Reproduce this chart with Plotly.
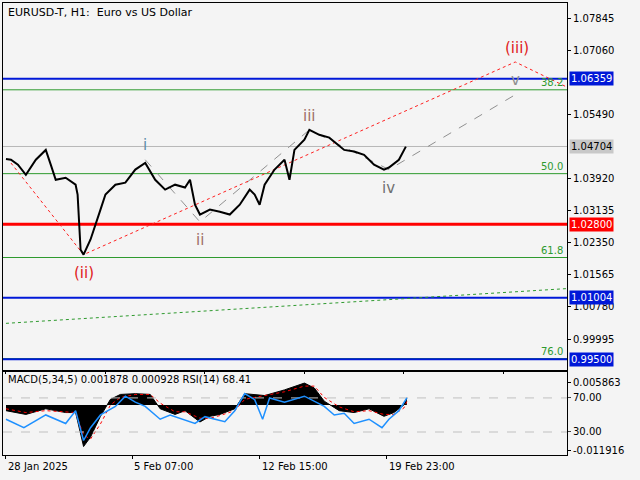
import plotly.graph_objects as go

# hourly bar index -> close price
bar_idx = [0, 5, 12, 20, 30, 40, 45, 50, 60, 70, 72, 75, 78, 85, 95, 100, 110, 120,
           130, 140, 150, 160, 170, 180, 185, 190, 195, 205, 215, 225, 235, 245, 250,
           255, 260, 270, 280, 285, 290, 300, 305, 315, 325, 340, 350, 360, 370, 380,
           385, 395, 402]
close = [1.0440, 1.0438, 1.0426, 1.0401, 1.0438, 1.0462, 1.0426, 1.0389, 1.0394,
         1.0377, 1.0353, 1.0218, 1.0206, 1.0243, 1.0316, 1.0353, 1.0377, 1.0382,
         1.0414, 1.0430, 1.0389, 1.0365, 1.0377, 1.0370, 1.0389, 1.0328, 1.0304,
         1.0316, 1.0311, 1.0304, 1.0328, 1.0365, 1.0353, 1.0328, 1.0377, 1.0414,
         1.0438, 1.0389, 1.0462, 1.0487, 1.0511, 1.0499, 1.0492, 1.0462, 1.0458,
         1.0450, 1.0426, 1.0414, 1.0419, 1.0438, 1.0470]

# indicator pane
rsi_idx = [0, 18, 40, 60, 70, 78, 85, 95, 110, 120, 130, 140, 155, 165, 190, 200,
           220, 230, 240, 250, 258, 265, 280, 300, 320, 330, 340, 350, 365, 378, 385,
           395, 403]
rsi = [45, 35, 50, 40, 55, 20, 35, 50, 60, 72, 65, 60, 45, 50, 40, 48, 42, 55, 75,
       68, 45, 70, 65, 72, 60, 50, 52, 40, 45, 35, 45, 55, 70]
macd_idx = [0, 20, 40, 60, 70, 78, 85, 95, 105, 115, 130, 145, 155, 170, 180, 195,
            205, 215, 230, 240, 260, 280, 300, 310, 320, 335, 350, 365, 380, 390,
            400, 403]
macd = [-0.0015, -0.0025, -0.0010, -0.0020, -0.0020, -0.0110, -0.0085, -0.0030,
        0.0015, 0.0028, 0.0030, 0.0028, -0.0010, -0.0025, -0.0015, -0.0045, -0.0030,
        -0.0025, -0.0010, 0.0030, 0.0025, 0.0040, 0.0058, 0.0045, 0.0010, -0.0015,
        -0.0020, -0.0010, -0.0030, -0.0020, 0.0000, 0.0019]
signal = [-0.0010, -0.0020, -0.0015, -0.0018, -0.0020, -0.0080, -0.0090, -0.0050,
          0.0000, 0.0020, 0.0028, 0.0028, 0.0005, -0.0018, -0.0018, -0.0035, -0.0035,
          -0.0028, -0.0015, 0.0015, 0.0025, 0.0035, 0.0050, 0.0050, 0.0020, -0.0005,
          -0.0018, -0.0015, -0.0025, -0.0025, -0.0008, 0.0009]

tick_pos = [0, 127, 255, 383]
tick_lab = ["28 Jan 2025", "5 Feb 07:00", "12 Feb 15:00", "19 Feb 23:00"]
price_ticks = [1.07845, 1.07060, 1.05490, 1.03920, 1.03135, 1.02350, 1.01565,
               1.00780, 0.99995]

# levels
blue_levels = [1.06359, 1.01004, 0.99500]
red_level = 1.02800
last_price = 1.04704
fib_levels = [1.0609, 1.0404, 1.0199, 0.9952]
fib_names = ["38.2", "50.0", "61.8", "76.0"]

# wave counts
minor_x = [140, 195, 305, 385, 512]
minor_y = [1.0438, 1.0286, 1.0511, 1.0414, 1.0597]
minor_lbl = ["i", "ii", "iii", "iv", "v"]
minor_col = ["#5f8fa8", "#a07068", "#a07068", "#707070", "#909090"]
major_x = [5, 78, 512, 567]
major_y = [1.0430, 1.0206, 1.0677, 1.0612]
ma_x = [0, 564]
ma_y = [1.0038, 1.0123]

fig = go.Figure()
X0, X1 = -3, 564

for lv in fib_levels:
    fig.add_trace(go.Scatter(x=[X0, X1], y=[lv, lv], mode="lines",
                             line=dict(color="#2e9a2e", width=1), hoverinfo="skip"))
fig.add_trace(go.Scatter(x=[X0, X1], y=[last_price] * 2, mode="lines",
                         line=dict(color="#b8b8b8", width=1)))
for lv in blue_levels:
    fig.add_trace(go.Scatter(x=[X0, X1], y=[lv, lv], mode="lines",
                             line=dict(color="#0018d8", width=2)))
fig.add_trace(go.Scatter(x=[X0, X1], y=[red_level] * 2, mode="lines",
                         line=dict(color="#ff0000", width=3)))
fig.add_trace(go.Scatter(x=ma_x, y=ma_y, mode="lines",
                         line=dict(color="#2e9a2e", width=1, dash="dot")))
fig.add_trace(go.Scatter(x=minor_x, y=minor_y, mode="lines",
                         line=dict(color="#909090", width=1, dash="dash")))
fig.add_trace(go.Scatter(x=major_x, y=major_y, mode="lines",
                         line=dict(color="#ff2020", width=1, dash="dot")))
fig.add_trace(go.Scatter(x=bar_idx, y=close, mode="lines",
                         line=dict(color="black", width=2)))

# indicator pane
fig.add_trace(go.Scatter(x=macd_idx, y=macd, mode="lines", fill="tozeroy",
                         fillcolor="black", line=dict(color="black", width=1),
                         xaxis="x2", yaxis="y2"))
fig.add_trace(go.Scatter(x=macd_idx, y=signal, mode="lines",
                         line=dict(color="#ff0000", width=1, dash="dot"),
                         xaxis="x2", yaxis="y2"))
for lv in [70, 30]:
    fig.add_trace(go.Scatter(x=[X0, X1], y=[lv, lv], mode="lines",
                             line=dict(color="#c0c0c0", width=1, dash="dash"),
                             xaxis="x2", yaxis="y3"))
fig.add_trace(go.Scatter(x=rsi_idx, y=rsi, mode="lines",
                         line=dict(color="#1e90ff", width=1.5),
                         xaxis="x2", yaxis="y3"))

ann = [dict(x=0.005, y=0.998, xref="paper", yref="paper", xanchor="left",
            yanchor="top", showarrow=False, text="EURUSD-T, H1:  Euro vs US Dollar",
            font=dict(size=11)),
       dict(x=0.005, y=0.183, xref="paper", yref="paper", xanchor="left",
            yanchor="top", showarrow=False,
            text="MACD(5,34,5) 0.001878 0.000928 RSI(14) 68.41", font=dict(size=10))]
for tp, tl in zip(tick_pos, tick_lab):
    ann.append(dict(x=tp, y=0, xref="x2", yref="paper", xanchor="left",
                    yanchor="top", yshift=-4, showarrow=False, text=tl,
                    font=dict(size=10)))
for lv in blue_levels:
    ann.append(dict(x=1.0, y=lv, xref="paper", yref="y", xanchor="left",
                    showarrow=False, text=f"{lv:.5f}", bgcolor="#0018d8",
                    font=dict(color="white", size=10), borderpad=1, xshift=2))
ann.append(dict(x=1.0, y=red_level, xref="paper", yref="y", xanchor="left",
                showarrow=False, text=f"{red_level:.5f}", bgcolor="#ff0000",
                font=dict(color="white", size=10), borderpad=1, xshift=2))
ann.append(dict(x=1.0, y=last_price, xref="paper", yref="y", xanchor="left",
                showarrow=False, text=f"{last_price:.5f}", bgcolor="#c8c8c8",
                font=dict(color="black", size=10), borderpad=1, xshift=2))
for lv, nm in zip(fib_levels, fib_names):
    ann.append(dict(x=X1 - 2, y=lv, xref="x", yref="y", xanchor="right",
                    yanchor="bottom", showarrow=False, text=nm,
                    font=dict(color="#2e9a2e", size=10)))
for xx, yy, t, c in zip(minor_x, minor_y, minor_lbl, minor_col):
    off = 0.0035 if t in ("i", "iii", "v") else -0.0045
    ann.append(dict(x=xx, y=yy + off, xref="x", yref="y", showarrow=False, text=t,
                    font=dict(color=c, size=15)))
ann.append(dict(x=514, y=1.0710, xref="x", yref="y", showarrow=False, text="(iii)",
                font=dict(color="#e02020", size=15)))
ann.append(dict(x=78, y=1.0160, xref="x", yref="y", showarrow=False, text="(ii)",
                font=dict(color="#e02020", size=15)))

axis_common = dict(showgrid=False, zeroline=False, showline=True, mirror=True,
                   linecolor="black", ticks="outside", tickcolor="black", ticklen=3,
                   automargin=False, tickfont=dict(size=10, color="black"))
fig.update_layout(
    width=640, height=480, showlegend=False,
    margin=dict(l=3, r=73, t=3, b=25),
    paper_bgcolor="#f4f4f4", plot_bgcolor="#f4f4f4",
    font=dict(family="DejaVu Sans", color="black"),
    xaxis=dict(range=[X0, X1], domain=[0, 1], showticklabels=False,
               anchor="y", **axis_common),
    yaxis=dict(range=[0.99239, 1.08212], domain=[0.188, 1], side="right",
               tickvals=price_ticks, ticktext=[f"{v:.5f}" for v in price_ticks],
               **axis_common),
    xaxis2=dict(range=[X0, X1], domain=[0, 1], anchor="y2", tickvals=tick_pos,
                showticklabels=False, **axis_common),
    yaxis2=dict(range=[-0.01324, 0.00878], domain=[0, 0.184], side="right",
                anchor="x2", tickvals=[0.005863, -0.011916],
                ticktext=["0.005863", "-0.011916"], **axis_common),
    yaxis3=dict(range=[3, 100.6], overlaying="y2", side="right", anchor="x2",
                tickvals=[70, 30], ticktext=["70.00", "30.00"], automargin=False,
                showgrid=False, zeroline=False, ticks="outside", ticklen=3,
                tickfont=dict(size=10, color="black")),
    annotations=ann,
)
fig.write_html("out.html", config={"displayModeBar": False},
               post_script="document.body.style.margin='0px';"
                           "document.body.style.background='#f4f4f4';")
